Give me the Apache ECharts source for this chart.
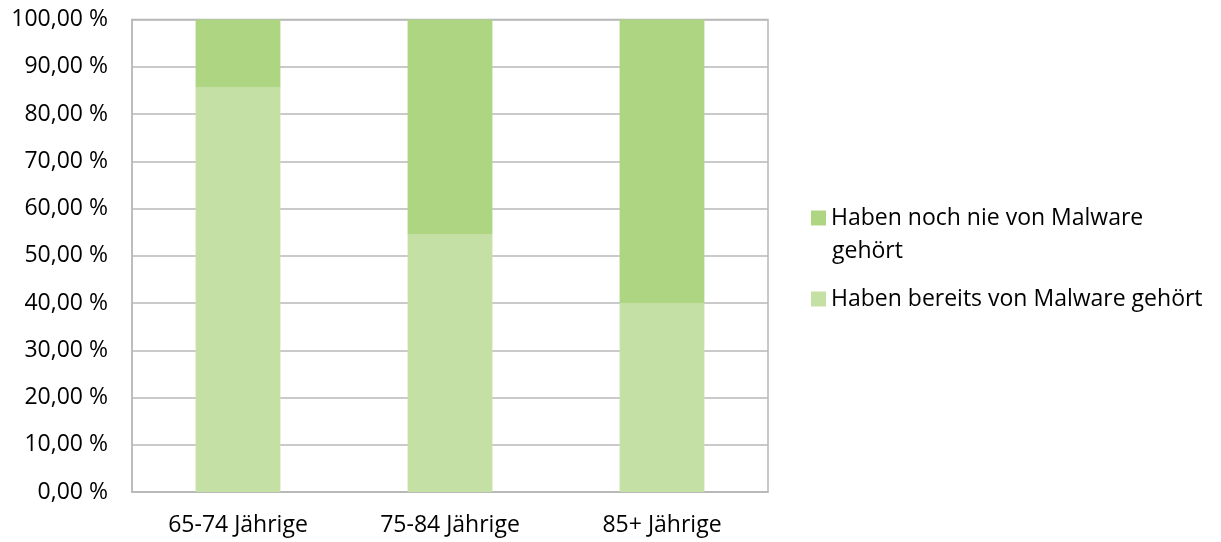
<!DOCTYPE html>
<html>
<head>
<meta charset="utf-8">
<style>
  html, body { margin: 0; padding: 0; background: #ffffff; }
  #chart { width: 1221px; height: 542px; }
</style>
<script src="https://cdn.jsdelivr.net/npm/echarts@6/dist/echarts.min.js"></script>
</head>
<body>
<div id="chart"></div>
<script>
// Age groups along the x axis
const categories = ['65-74 Jährige', '75-84 Jährige', '85+ Jährige'];
// Share (%) that has already heard of malware
const heardValues = [85.7, 54.6, 40.0];
// Share (%) that has never heard of malware
const neverValues = [14.3, 45.4, 60.0];
// Series names shown in the legend
const seriesNames = ['Haben noch nie von Malware gehört', 'Haben bereits von Malware gehört'];
// The first legend entry wraps: its first line sits beside the swatch, the rest goes below
const legendFirstLine = { 'Haben noch nie von Malware gehört': 'Haben noch nie von Malware' };
const legendContinuation = 'gehört';

const FONT = 'Open Sans';
const FS = 23;
const chart = echarts.init(document.getElementById('chart'));
chart.setOption({
  animation: false,
  textStyle: { fontFamily: FONT, color: '#000' },
  grid: { left: 132, right: 453, top: 19.5, bottom: 50, show: true, borderColor: '#b8b8b8', borderWidth: 1.5 },
  legend: {
    orient: 'vertical',
    left: 811,
    top: 201.5,
    padding: 0,
    itemWidth: 15,
    itemHeight: 15,
    itemGap: 48,
    icon: 'rect',
    data: seriesNames,
    formatter: name => legendFirstLine[name] || name,
    textStyle: { fontFamily: FONT, fontSize: FS, color: '#000', lineHeight: 33 }
  },
  graphic: [{
    type: 'text',
    left: 832,
    top: 251 - 16.5,
    style: { text: legendContinuation, fontFamily: FONT, fontSize: FS, fill: '#000', lineHeight: 33 }
  }],
  xAxis: {
    type: 'category',
    data: categories,
    axisLine: { lineStyle: { color: '#b8b8b8', width: 1.5 } },
    axisTick: { show: false },
    axisLabel: { fontFamily: FONT, fontSize: FS, color: '#000', margin: 22 }
  },
  yAxis: {
    type: 'value',
    min: 0,
    max: 100,
    interval: 10,
    axisLine: { show: true, lineStyle: { color: '#b8b8b8', width: 1.5 } },
    axisTick: { show: false },
    splitLine: { lineStyle: { color: '#b8b8b8', width: 1.5 } },
    axisLabel: {
      fontFamily: FONT, fontSize: FS, color: '#000', margin: 24,
      formatter: v => v.toFixed(2).replace('.', ',') + ' %'
    }
  },
  series: [
    {
      name: seriesNames[1],
      type: 'bar',
      stack: 'total',
      barWidth: '40%',
      data: heardValues,
      itemStyle: { color: '#c5e0a5' }
    },
    {
      name: seriesNames[0],
      type: 'bar',
      stack: 'total',
      barWidth: '40%',
      data: neverValues,
      itemStyle: { color: '#aed582' }
    }
  ]
});
</script>
</body>
</html>
